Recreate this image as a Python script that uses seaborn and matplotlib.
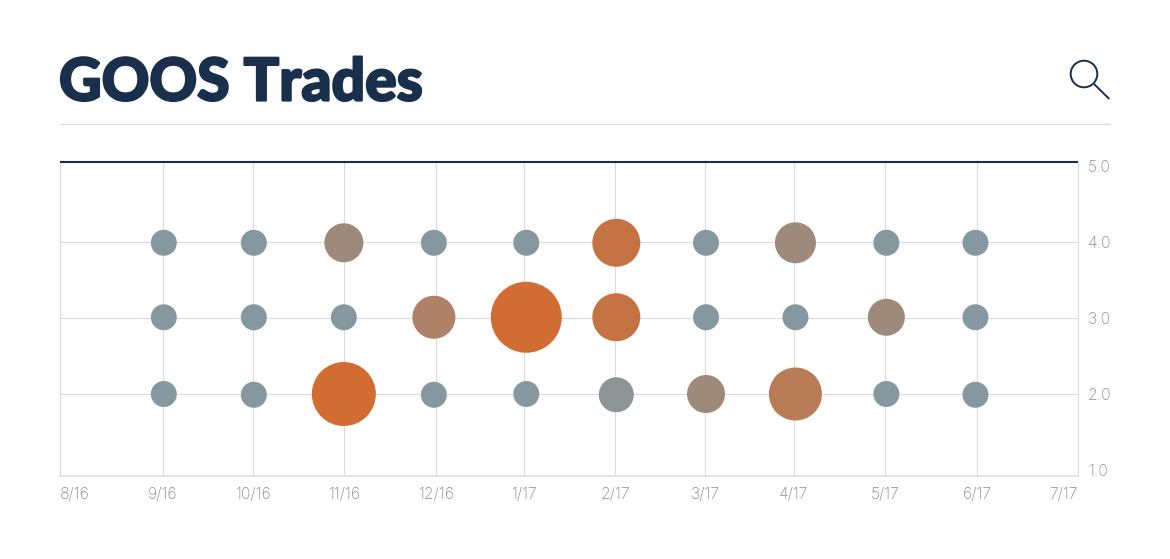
import pandas as pd
import matplotlib
matplotlib.use("Agg")
import matplotlib.pyplot as plt
import matplotlib.patheffects as pe
from matplotlib.colors import LinearSegmentedColormap
from matplotlib.patches import Circle
import seaborn as sns

# Axis ticks: days since the start of the window, and their labels
tick_days = [0, 34.2, 64.2, 94.6, 125.3, 154.6, 185, 215, 244.5, 275, 305.5, 339]
tick_labels = ["8/16", "9/16", "10/16", "11/16", "12/16", "1/17", "2/17",
               "3/17", "4/17", "5/17", "6/17", "7/17"]
level_ticks = [1, 2, 3, 4, 5]

# Trades per month: day of trade in the window
trade_days = [34.5, 64.5, 94.5, 124.5, 155.3, 185.3, 215.2, 245, 275.3, 305]

# Level, bubble radius in pixels and colour weight for each month, one list per row
level_4 = [3.99] * 10
level_3 = [3.01] * 10
level_2 = [2.0, 1.99, 2.0, 1.99, 2.0, 1.99, 2.0, 2.0, 2.0, 1.99]
radius_4 = [13, 13, 19.5, 13, 13, 24, 13, 20.5, 13, 13]
radius_3 = [13, 13, 13, 21.5, 35.5, 24, 13, 13, 18.5, 13]
radius_2 = [13, 13, 32, 13, 13, 17.5, 19, 26.5, 13, 13]
weight_4 = [0, 0, 0.33, 0, 0, 0.85, 0, 0.33, 0, 0]
weight_3 = [0, 0, 0, 0.52, 1, 0.85, 0, 0, 0.33, 0]
weight_2 = [0, 0, 1, 0, 0, 0.1, 0.33, 0.68, 0, 0]

NAVY = "#1A2F4B"
RULE = "#DBDBDB"
TICK = "#8C8C8C"
DPI = 100

sns.set_theme(style="white")
plt.rcParams["font.family"] = ["Inter", "DejaVu Sans"]

frames = []
for level, radius, weight in [(level_4, radius_4, weight_4), (level_3, radius_3, weight_3), (level_2, radius_2, weight_2)]:
    frames.append(pd.DataFrame({"day": trade_days, "level": level, "radius": radius, "weight": weight}))
trades = pd.concat(frames, ignore_index=True)

fig = plt.figure(figsize=(1170 / DPI, 559 / DPI), dpi=DPI, facecolor="white")
W, H = 1170, 559
ax = fig.add_axes([60.3 / W, 1 - 476 / H, (1077.5 - 60.3) / W, (476 - 162) / H])

bubble_cmap = LinearSegmentedColormap.from_list("trade_weight", ["#85989F", "#D16D33"])
marker_areas = {r: (2 * r * 72 / DPI) ** 2 for r in trades["radius"].unique()}
sns.scatterplot(data=trades, x="day", y="level", hue="weight", hue_norm=(0, 1), palette=bubble_cmap,
                size="radius", sizes=marker_areas, linewidth=0, alpha=1, legend=False,
                ax=ax, zorder=3, clip_on=False)

ax.set_xlim(0, 339)
ax.set_ylim(0.921, 5.053)
ax.set_xlabel("")
ax.set_ylabel("")
ax.set_xticks(tick_days, tick_labels)
ax.set_yticks(level_ticks, [f"{v:.1f}" for v in level_ticks])
ax.yaxis.tick_right()
ax.tick_params(axis="both", length=0, labelsize=11.3, labelcolor=TICK)
ax.tick_params(axis="x", pad=8)
ax.tick_params(axis="y", pad=7.5)
for label in ax.get_xticklabels() + ax.get_yticklabels():
    label.set_fontweight("light")

ax.grid(True, color=RULE, linewidth=0.8)
ax.set_axisbelow(True)
for line, level in zip(ax.yaxis.get_gridlines(), level_ticks):
    line.set_visible(level in (2, 3, 4))

xlabels = ax.get_xticklabels()
xlabels[0].set_ha("left")
xlabels[-1].set_ha("right")

for side in ("left", "right"):
    ax.spines[side].set_color(RULE)
    ax.spines[side].set_linewidth(0.8)
ax.spines["bottom"].set_color(RULE)
ax.spines["bottom"].set_linewidth(1.1)
ax.spines["top"].set_color(NAVY)
ax.spines["top"].set_linewidth(1.5)
ax.spines["top"].set_capstyle("butt")

# Header: title, rule and search icon, placed in pixel coordinates
header = fig.add_axes([0, 0, 1, 1], zorder=-1)
header.set_xlim(0, W)
header.set_ylim(H, 0)
header.axis("off")
title = header.text(59, 100.5, "GOOS Trades", fontsize=42.4, fontweight="black", family=["Lato", "DejaVu Sans"],
                    color=NAVY, ha="left", va="baseline")
title.set_path_effects([pe.withStroke(linewidth=1.6, foreground=NAVY)])
header.plot([60, 1110], [124.2, 124.2], color=RULE, lw=0.9, solid_capstyle="butt")
header.add_patch(Circle((1084, 74), 13.3, fill=False, edgecolor=NAVY, lw=1.4))
header.plot([1094, 1109.3], [84, 99], color=NAVY, lw=1.4, solid_capstyle="butt")

fig.savefig("out.png", dpi=DPI, facecolor="white")
